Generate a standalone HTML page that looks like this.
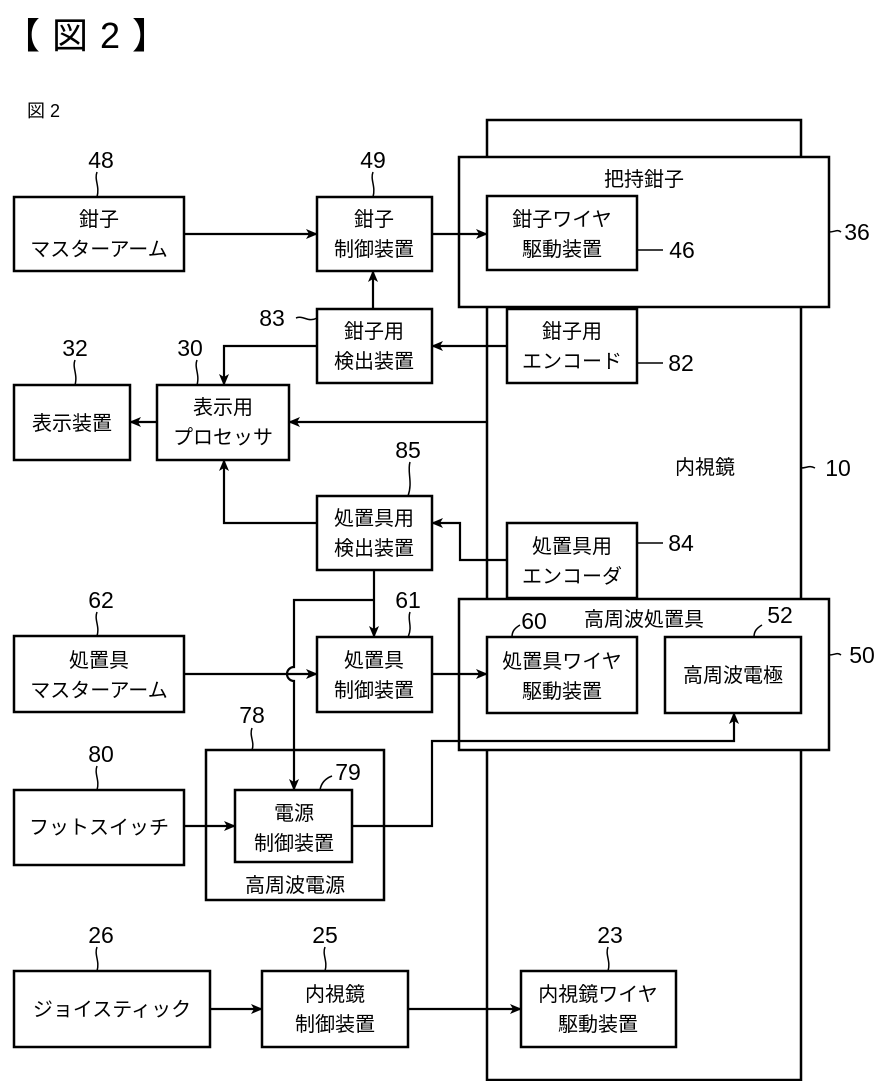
<!DOCTYPE html>
<html><head><meta charset="utf-8"><style>
html,body{margin:0;padding:0;background:#fff;}
svg text{font-family:"Liberation Sans","Noto Sans CJK JP",sans-serif;fill:#000;}
</style></head><body>
<svg width="892" height="1081" viewBox="0 0 892 1081" xmlns="http://www.w3.org/2000/svg">
<defs><marker id="a" markerWidth="12" markerHeight="10" refX="11" refY="5" orient="auto" markerUnits="userSpaceOnUse"><path d="M0,0 L12,5 L0,10 L3,5 z" fill="#000"/></marker></defs>
<text x="4" y="48" font-size="36" letter-spacing="1">【 図 2 】</text>
<text x="27" y="117" font-size="18">図 2</text>
<g fill="none" stroke="#000" stroke-width="2.5">
<rect x="487" y="120" width="314" height="960"/>
<rect x="459" y="157" width="370" height="150" fill="#fff"/>
<rect x="487" y="196" width="150" height="74"/>
<rect x="14" y="197" width="170" height="74"/>
<rect x="317" y="197" width="115" height="74"/>
<rect x="317" y="309" width="115" height="74"/>
<rect x="507" y="309" width="130" height="74" fill="#fff"/>
<rect x="157" y="385" width="132" height="75"/>
<rect x="14" y="385" width="116" height="75"/>
<rect x="317" y="496" width="115" height="74"/>
<rect x="507" y="523" width="130" height="75" fill="#fff"/>
<rect x="459" y="599" width="370" height="151" fill="#fff"/>
<rect x="487" y="637" width="150" height="76"/>
<rect x="665" y="637" width="136" height="76"/>
<rect x="14" y="636" width="170" height="76"/>
<rect x="317" y="637" width="115" height="75"/>
<rect x="206" y="750" width="178" height="150"/>
<rect x="235" y="790" width="117" height="72"/>
<rect x="14" y="790" width="170" height="75"/>
<rect x="14" y="971" width="196" height="76"/>
<rect x="262" y="971" width="146" height="76"/>
<rect x="521" y="971" width="155" height="76"/>
</g>
<g fill="none" stroke="#000" stroke-width="2.2">
<path d="M184,234H317" marker-end="url(#a)"/>
<path d="M432,234H487" marker-end="url(#a)"/>
<path d="M373,309V271" marker-end="url(#a)"/>
<path d="M507,346H432" marker-end="url(#a)"/>
<path d="M317,346H224V385" marker-end="url(#a)"/>
<path d="M487,422H289" marker-end="url(#a)"/>
<path d="M157,422H130" marker-end="url(#a)"/>
<path d="M317,523H224V460" marker-end="url(#a)"/>
<path d="M507,560H460V523H432" marker-end="url(#a)"/>
<path d="M374,570V637" marker-end="url(#a)"/>
<path d="M374,600H294V667A7,7 0 0 0 294,681V790" marker-end="url(#a)"/>
<path d="M184,674H317" marker-end="url(#a)"/>
<path d="M432,674H487" marker-end="url(#a)"/>
<path d="M352,826H432V741H734V713" marker-end="url(#a)"/>
<path d="M184,826H235" marker-end="url(#a)"/>
<path d="M210,1009H262" marker-end="url(#a)"/>
<path d="M408,1009H521" marker-end="url(#a)"/>
</g>
<g fill="none" stroke="#000" stroke-width="1.5">
<path d="M97,172c-3,8 3,14 0,25"/>
<path d="M373,172c-3,8 3,14 0,25"/>
<path d="M637,250h26"/>
<path d="M829,232c6,0 8,-3 12,0"/>
<path d="M296,318c8,-3 12,5 21,0"/>
<path d="M637,363h26"/>
<path d="M197,360c-3,8 3,14 0,25"/>
<path d="M75,360c-3,8 3,14 0,25"/>
<path d="M801,468c6,0 8,-3 14,0"/>
<path d="M410,462c-3,10 3,20 -2,34"/>
<path d="M637,543h26"/>
<path d="M520,625c-5,3 -8,6 -8,12"/>
<path d="M762,625c-5,3 -8,6 -8,12"/>
<path d="M829,655c6,0 8,-3 12,0"/>
<path d="M97,612c-3,8 3,14 0,24"/>
<path d="M410,612c-3,8 3,14 -2,25"/>
<path d="M252,728c-3,8 3,14 0,22"/>
<path d="M332,776c-8,3 -11,8 -12,14"/>
<path d="M97,766c-3,8 3,14 0,24"/>
<path d="M97,947c-3,8 3,14 0,24"/>
<path d="M325,947c-3,8 3,14 0,24"/>
<path d="M608,947c-3,8 3,14 0,24"/>
</g>
<g font-size="23" text-anchor="middle">
<text x="101" y="168">48</text><text x="373" y="168">49</text>
<text x="682" y="258">46</text><text x="857" y="240">36</text>
<text x="272" y="326">83</text><text x="681" y="371">82</text>
<text x="190" y="356">30</text><text x="75" y="356">32</text>
<text x="838" y="476">10</text><text x="408" y="458">85</text>
<text x="681" y="551">84</text><text x="534" y="629">60</text>
<text x="780" y="623">52</text><text x="862" y="663">50</text>
<text x="101" y="608">62</text><text x="408" y="608">61</text>
<text x="252" y="723">78</text><text x="348" y="780">79</text>
<text x="101" y="762">80</text><text x="101" y="943">26</text>
<text x="325" y="943">25</text><text x="610" y="943">23</text>
</g>
<g font-size="20" text-anchor="middle">
<text x="644" y="186">把持鉗子</text>
<text x="562" y="226">鉗子ワイヤ</text><text x="562" y="256">駆動装置</text>
<text x="99" y="226">鉗子</text><text x="99" y="256">マスターアーム</text>
<text x="374" y="226">鉗子</text><text x="374" y="256">制御装置</text>
<text x="374" y="338">鉗子用</text><text x="374" y="368">検出装置</text>
<text x="572" y="338">鉗子用</text><text x="572" y="368">エンコード</text>
<text x="223" y="414">表示用</text><text x="223" y="444">プロセッサ</text>
<text x="72" y="430">表示装置</text>
<text x="705" y="474">内視鏡</text>
<text x="374" y="525">処置具用</text><text x="374" y="555">検出装置</text>
<text x="572" y="553">処置具用</text><text x="572" y="583">エンコーダ</text>
<text x="644" y="626">高周波処置具</text>
<text x="562" y="668">処置具ワイヤ</text><text x="562" y="698">駆動装置</text>
<text x="733" y="682">高周波電極</text>
<text x="99" y="667">処置具</text><text x="99" y="697">マスターアーム</text>
<text x="374" y="667">処置具</text><text x="374" y="697">制御装置</text>
<text x="294" y="820">電源</text><text x="294" y="850">制御装置</text>
<text x="295" y="892">高周波電源</text>
<text x="99" y="834">フットスイッチ</text>
<text x="112" y="1016">ジョイスティック</text>
<text x="335" y="1001">内視鏡</text><text x="335" y="1031">制御装置</text>
<text x="598" y="1001">内視鏡ワイヤ</text><text x="598" y="1031">駆動装置</text>
</g>
</svg>
</body></html>
